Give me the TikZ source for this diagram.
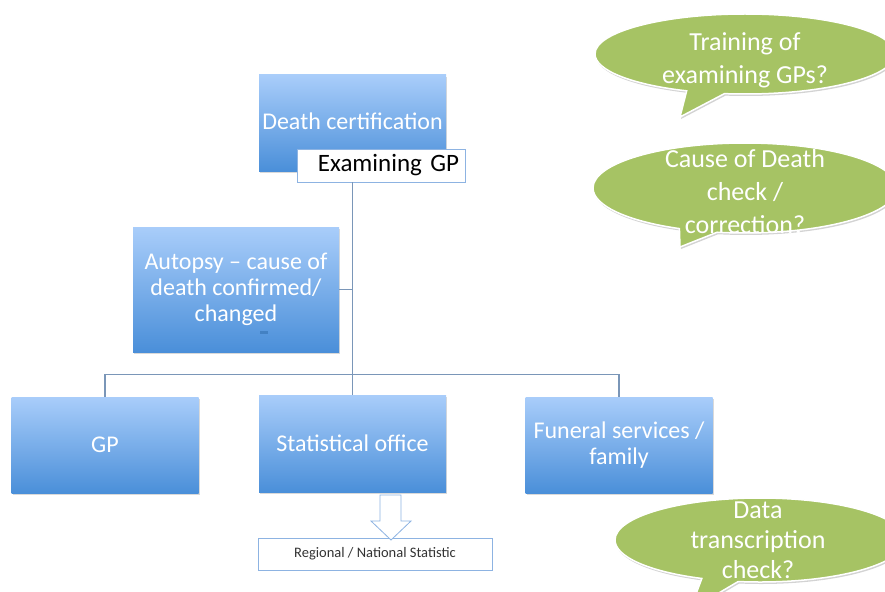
\documentclass[tikz,border=0pt]{standalone}
\usepackage{fontspec}
\setmainfont{Carlito}
\usetikzlibrary{shapes.callouts,shadows}
\definecolor{boxtop}{RGB}{169,205,250}
\definecolor{boxbot}{RGB}{74,143,217}
\definecolor{linkcol}{RGB}{122,150,184}
\definecolor{tagline}{RGB}{141,179,226}
\definecolor{bubblegreen}{RGB}{166,195,100}
\begin{document}
\begin{tikzpicture}[x=1pt,y=1pt]
	\tikzstyle{block}=[rectangle,top color=boxtop,bottom color=boxbot,text=white,align=center,inner sep=2pt,minimum width=187pt,minimum height=96pt,font=\fontsize{24}{26}\selectfont,drop shadow={shadow xshift=1pt,shadow yshift=-2pt,opacity=0.3}]
	\tikzstyle{tag}=[rectangle,draw=tagline,fill=white,line width=0.8pt]
	\tikzstyle{bubble}=[ellipse callout,fill=bubblegreen,draw=white,line width=1.5pt,inner sep=0pt,drop shadow={shadow xshift=1pt,shadow yshift=-2pt,opacity=0.35}]
	\tikzstyle{ask}=[text=white,align=center,font=\fontsize{26}{33}\selectfont]
	\tikzstyle{link}=[draw=linkcol,line width=1.2pt]
	\useasboundingbox (0,0) rectangle (885,-591);
	% boxes
	\node[block] (death) at (352.5,-123) {\raisebox{4pt}{Death certification}};
	\node[tag,minimum width=168pt,minimum height=33pt,text width=156pt,inner xsep=6pt,align=right,font=\fontsize{25}{28}\selectfont] (exam) at (381,-165.5) {Examining GP};
	\node[block,minimum width=206pt,minimum height=125pt] (autopsy) at (236,-289.5) {Autopsy -- cause of\\death confirmed/\\changed};
	\fill[boxbot!90!black] (260,-331) rectangle (268,-334);
	\node[block] (gp) at (105,-445) {GP};
	\node[block,minimum height=97pt] (stat) at (352.5,-443.5) {Statistical office};
	\node[block] (funeral) at (619,-445) {Funeral services /\\family};
	% lines
	\draw[link] (death.center |- exam.south) -- (stat.north);
	\draw[link] (autopsy.east) -- (autopsy.east -| stat.north);
	\draw[link] (gp.north) -- ++(0,22) -| (funeral.north);
	% output
	\node[tag,minimum width=234pt,minimum height=32pt,text=black!80,font=\fontsize{14.5}{16}\selectfont] (natstat) at (375,-554) {Regional / National Statistic};
	\draw[tag] (380,-495) -- (380,-521) -- (371,-521) -- (391,-540) -- (411,-521) -- (401,-521) -- (401,-495) -- cycle;
	% questions
	\node[bubble,minimum width=300pt,minimum height=80pt,callout absolute pointer={(680,-117)},
		label={[ask,yshift=-6pt]center:Training of\\examining GPs?}] (qtrain) at (745,-54) {};
	\node[bubble,minimum width=304pt,minimum height=90pt,callout absolute pointer={(680,-247)},
		label={[ask,yshift=-4pt]center:Cause of Death\\check /\\correction?}] (qcause) at (745,-188) {};
	\node[bubble,minimum width=290pt,minimum height=84pt,callout absolute pointer={(690,-610)},
		label={[ask,font=\fontsize{26}{30}\selectfont,xshift=-2pt]center:Data\\transcription\\check?}] (qdata) at (760,-540) {};
\end{tikzpicture}
\end{document}
